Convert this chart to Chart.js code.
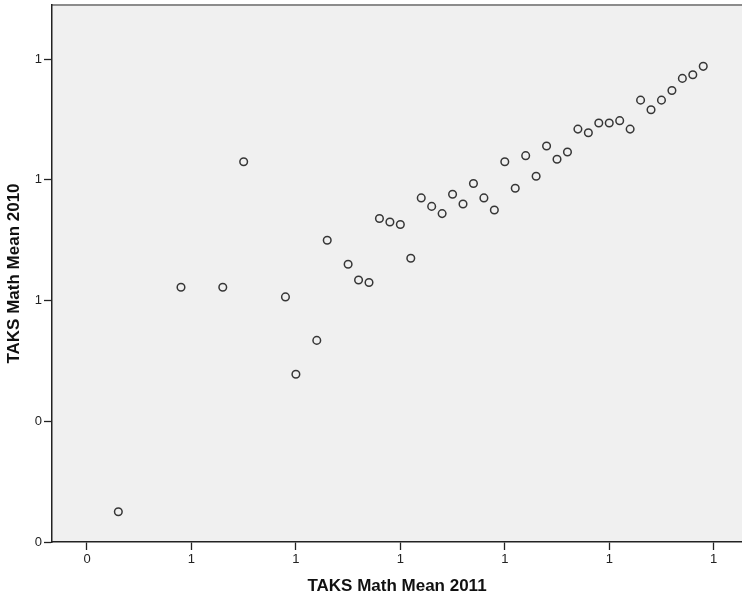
<!DOCTYPE html>
<html>
<head>
<meta charset="utf-8">
<script src="https://cdn.jsdelivr.net/npm/chart.js@4/dist/chart.umd.min.js"></script>
<style>
  body { margin: 0; background: #fff; }
  #wrap { width: 742px; height: 600px; }
</style>
</head>
<body>
<div id="wrap"><canvas id="scatter" width="742" height="600"></canvas></div>
<script>
// mean scores, one point per campus (2011 on x, 2010 on y)
const mean2011 = [0.43, 0.49, 0.53, 0.55, 0.59, 0.60, 0.62, 0.63, 0.65, 0.66, 0.67,
    0.68, 0.69, 0.70, 0.71, 0.72, 0.73, 0.74, 0.75, 0.76, 0.77, 0.78, 0.79,
    0.80, 0.81, 0.82, 0.83, 0.84, 0.85, 0.86, 0.87, 0.88, 0.89, 0.90, 0.91,
    0.92, 0.93, 0.94, 0.95, 0.96, 0.97, 0.98, 0.99];
const mean2010 = [0.325, 0.511, 0.511, 0.615, 0.503, 0.439, 0.467, 0.550, 0.530, 0.517, 0.515,
    0.568, 0.565, 0.563, 0.535, 0.585, 0.578, 0.572, 0.588, 0.580, 0.597, 0.585, 0.575,
    0.615, 0.593, 0.620, 0.603, 0.628, 0.617, 0.623, 0.642, 0.639, 0.647, 0.647, 0.649,
    0.642, 0.666, 0.658, 0.666, 0.674, 0.684, 0.687, 0.694];

// axis ticks and the (rounded) labels shown under them
const xTicks = [0.4, 0.5, 0.6, 0.7, 0.8, 0.9, 1.0];
const xTickLabels = ["0", "1", "1", "1", "1", "1", "1"];
const yTicks = [0.3, 0.4, 0.5, 0.6, 0.7];
const yTickLabels = ["0", "0", "1", "1", "1"];

const points = mean2011.map((x, i) => ({ x: x, y: mean2010[i] }));

Chart.defaults.font.family = "'Liberation Sans', Arial, sans-serif";

// grey plot background with a thin top frame, like the SPSS output
const plotFrame = {
    id: 'plotFrame',
    beforeDraw(chart) {
        const { ctx, chartArea: a } = chart;
        ctx.save();
        ctx.fillStyle = '#f0f0f0';
        ctx.fillRect(a.left, a.top, a.right - a.left, a.bottom - a.top);
        ctx.strokeStyle = '#8c8c8c';
        ctx.lineWidth = 2;
        ctx.beginPath();
        ctx.moveTo(a.left, a.top);
        ctx.lineTo(a.right, a.top);
        ctx.stroke();
        ctx.restore();
    }
};

const tickFont = { size: 13 };
const titleFont = { size: 17, weight: 'bold' };

// keep the plot box where the reference has it (no label overhang padding)
const fixX = s => { s.height = 58; s.paddingLeft = 0; s.paddingRight = 0; };
const fixY = s => { s.width = 52; s.paddingTop = 0; s.paddingBottom = 0; };

new Chart(document.getElementById('scatter'), {
    type: 'scatter',
    data: {
        datasets: [{
            data: points,
            pointRadius: 3.8,
            pointHoverRadius: 3.8,
            pointBorderWidth: 1.5,
            borderColor: '#363636',
            backgroundColor: 'rgba(0,0,0,0)',
            clip: false
        }]
    },
    options: {
        responsive: false,
        animation: false,
        layout: { autoPadding: false, padding: { top: 5, right: 0, bottom: 0, left: 0 } },
        plugins: {
            legend: { display: false },
            tooltip: { enabled: false }
        },
        scales: {
            x: {
                type: 'linear',
                min: 0.3665,
                max: 1.0271,
                afterFit: fixX,
                afterBuildTicks: s => { s.ticks = xTicks.map(v => ({ value: v })); },
                grid: { drawOnChartArea: false, tickLength: 8, tickColor: '#222', tickWidth: 1.3 },
                border: { display: true, color: '#222', width: 1.5 },
                ticks: {
                    padding: 2,
                    color: '#222',
                    font: tickFont,
                    maxRotation: 0,
                    callback: (v, i) => xTickLabels[i]
                },
                title: {
                    display: true,
                    text: 'TAKS Math Mean 2011',
                    color: '#111',
                    font: titleFont,
                    padding: { top: 0, bottom: 3 }
                }
            },
            y: {
                type: 'linear',
                min: 0.3,
                max: 0.7448,
                afterFit: fixY,
                afterBuildTicks: s => { s.ticks = yTicks.map(v => ({ value: v })); },
                grid: { drawOnChartArea: false, tickLength: 8, tickColor: '#222', tickWidth: 1.3 },
                border: { display: true, color: '#222', width: 1.5 },
                ticks: {
                    padding: 2,
                    color: '#222',
                    font: tickFont,
                    callback: (v, i) => yTickLabels[i]
                },
                title: {
                    display: true,
                    text: 'TAKS Math Mean 2010',
                    color: '#111',
                    font: titleFont,
                    padding: { top: 4, bottom: 0 }
                }
            }
        }
    },
    plugins: [plotFrame]
});
</script>
</body>
</html>
